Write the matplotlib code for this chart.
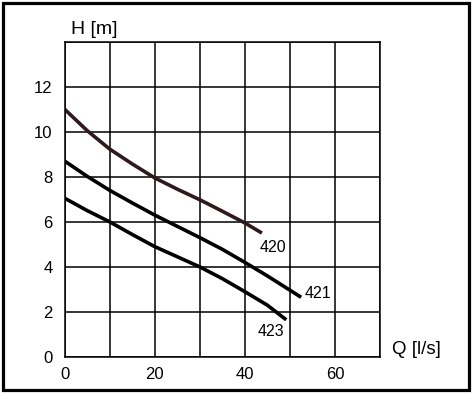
import matplotlib
matplotlib.use("Agg")
import matplotlib.pyplot as plt
from matplotlib.patches import Rectangle

plt.rcParams['font.family'] = ['Liberation Sans', 'DejaVu Sans']

# Pump curves H [m] vs Q [l/s]
q_420 = [0, 5, 10, 15, 20, 25, 30, 35, 40, 43.8]
h_420 = [11.0, 10.05, 9.23, 8.57, 7.95, 7.45, 6.98, 6.47, 5.95, 5.5]

q_421 = [0, 5, 10, 15, 20, 25, 30, 35, 40, 45, 52.5]
h_421 = [8.7, 8.02, 7.4, 6.84, 6.3, 5.8, 5.3, 4.78, 4.2, 3.6, 2.65]

q_423 = [0, 5, 10, 15, 20, 25, 30, 35, 40, 45, 49.2]
h_423 = [7.05, 6.5, 6.0, 5.44, 4.9, 4.45, 4.0, 3.48, 2.9, 2.3, 1.65]

curve_names = ['420', '421', '423']

x_ticks = [0, 10, 20, 30, 40, 50, 60, 70]
x_labels = ['0', '', '20', '', '40', '', '60', '']
y_ticks = [0, 2, 4, 6, 8, 10, 12, 14]
y_labels = ['0', '2', '4', '6', '8', '10', '12', '']

fig = plt.figure(figsize=(4.72, 3.95), dpi=100)
ax = fig.add_axes([0.1367, 0.0962, 0.6684, 0.7987])

kw = dict(lw=2.6, solid_capstyle='butt', solid_joinstyle='round')
ax.plot(q_420, h_420, color='#2e1a1c', **kw)
ax.plot(q_421, h_421, color='black', **kw)
ax.plot(q_423, h_423, color='black', **kw)

# curve labels
ax.text(46.3, 4.87, curve_names[0], fontsize=11.5, ha='center', va='center')
ax.text(56.3, 2.8, curve_names[1], fontsize=11.5, ha='center', va='center')
ax.text(45.8, 1.11, curve_names[2], fontsize=11.5, ha='center', va='center')

ax.set_xlim(0, 70)
ax.set_ylim(0, 14)
ax.set_xticks(x_ticks)
ax.set_xticklabels(x_labels)
ax.set_yticks(y_ticks)
ax.set_yticklabels(y_labels)
ax.tick_params(length=0, labelsize=12)
ax.tick_params(axis='y', pad=8.5)
ax.tick_params(axis='x', pad=7.5)
ax.grid(True, color='black', lw=1.1)
for s in ax.spines.values():
    s.set_linewidth(1.1)

fig.text(0.1498, 0.914, 'H [m]', fontsize=14, ha='left', va='baseline')
fig.text(0.8311, 0.104, 'Q [l/s]', fontsize=13.5, ha='left', va='baseline')

# outer frame
fig.add_artist(Rectangle((0.0064, 0.0114), 0.9866, 0.981, transform=fig.transFigure,
                         fill=False, lw=2.3, edgecolor='black'))

fig.savefig('out.png', dpi=100)
